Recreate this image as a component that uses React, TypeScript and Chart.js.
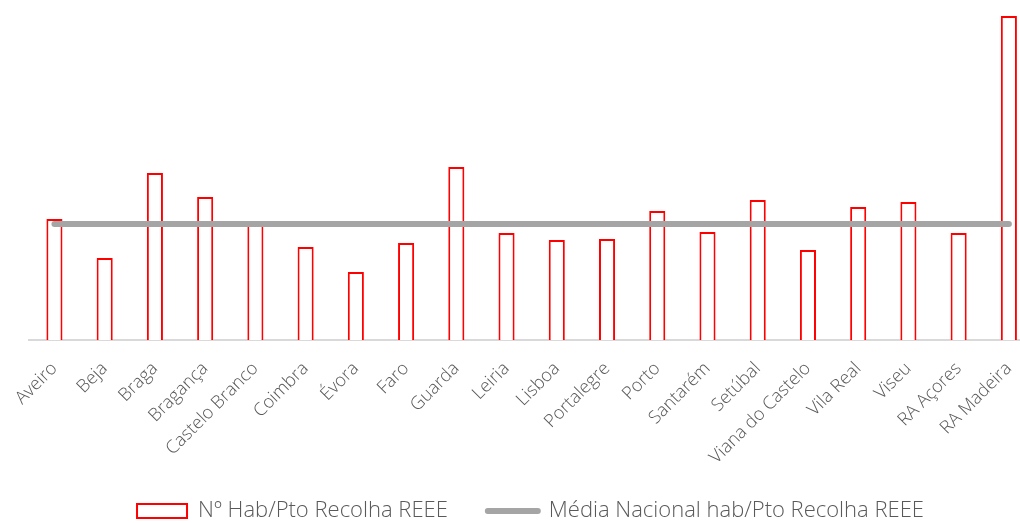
import React, { useEffect, useRef } from "react";
import { Chart, registerables } from "chart.js";

Chart.register(...registerables);

const categories = [
  "Aveiro", "Beja", "Braga", "Bragança", "Castelo Branco", "Coimbra", "Évora", "Faro",
  "Guarda", "Leiria", "Lisboa", "Portalegre", "Porto", "Santarém", "Setúbal",
  "Viana do Castelo", "Vila Real", "Viseu", "RA Açores", "RA Madeira",
];
const habPorPonto = [121, 82, 167, 143, 116, 93, 68, 97, 173, 107, 100, 101, 129, 108, 140, 90, 133, 138, 107, 324];
const mediaNacional = [116, 116, 116, 116, 116, 116, 116, 116, 116, 116, 116, 116, 116, 116, 116, 116, 116, 116, 116, 116];
const seriesLabels = ["Nº Hab/Pto Recolha REEE", "Média Nacional hab/Pto Recolha REEE"];

const W = 1056;
const H = 532;

export default function App() {
  const ref = useRef<HTMLCanvasElement | null>(null);
  useEffect(() => {
    document.body.style.overflow = "hidden";
    const canvas = ref.current!;
    const chart = new Chart(canvas, {
      type: "bar",
      data: {
        labels: categories,
        datasets: [
          {
            type: "bar",
            label: seriesLabels[0],
            data: habPorPonto,
            backgroundColor: "#ffffff",
            borderColor: "#ff0000",
            borderWidth: 2,
            categoryPercentage: 0.8,
            barPercentage: 0.4,
            order: 1,
          },
          {
            type: "line",
            label: seriesLabels[1],
            data: mediaNacional,
            borderColor: "#a5a5a5",
            backgroundColor: "#a5a5a5",
            borderWidth: 6,
            borderCapStyle: "round",
            pointRadius: 0,
            order: 0,
          },
        ],
      },
      options: {
        responsive: false,
        animation: false,
        layout: { padding: { left: 27, right: W - 1034, top: 10, bottom: 0 } },
        scales: {
          x: {
            offset: true,
            grid: { display: false, drawTicks: false },
            border: { display: true, color: "#d9d9d9", width: 2 },
            ticks: {
              autoSkip: false,
              minRotation: 45,
              maxRotation: 45,
              padding: 18,
              color: "#595959",
              font: { family: "'Open Sans'", size: 18, weight: "300" },
            },
            afterFit: (scale: any) => {
              scale.height = 120;
              scale._computeLabelArea = () => undefined;
            },
          },
          y: {
            display: false,
            min: 0,
            max: 330,
          },
        },
        plugins: {
          tooltip: { enabled: false },
          legend: {
            position: "bottom",
            labels: {
              usePointStyle: true,
              pointStyleWidth: 50,
              boxHeight: 14,
              padding: 40,
              color: "#595959",
              font: { family: "'Open Sans'", size: 22, weight: "300" },
              generateLabels: () => [
                {
                  text: seriesLabels[0],
                  fillStyle: "#ffffff",
                  strokeStyle: "#ff0000",
                  lineWidth: 2,
                  pointStyle: "rect",
                  fontColor: "#595959",
                  datasetIndex: 0,
                },
                {
                  text: seriesLabels[1],
                  fillStyle: "#a5a5a5",
                  strokeStyle: "#a5a5a5",
                  lineWidth: 6,
                  lineCap: "round",
                  pointStyle: "line",
                  fontColor: "#595959",
                  datasetIndex: 1,
                },
              ],
            },
          },
        },
      },
    } as any);
    return () => chart.destroy();
  }, []);
  return (
    <div style={{ position: "fixed", left: 0, top: 0, width: W, height: H, overflow: "hidden" }}>
      <canvas ref={ref} width={W} height={H} style={{ width: W, height: H, display: "block" }} />
    </div>
  );
}
